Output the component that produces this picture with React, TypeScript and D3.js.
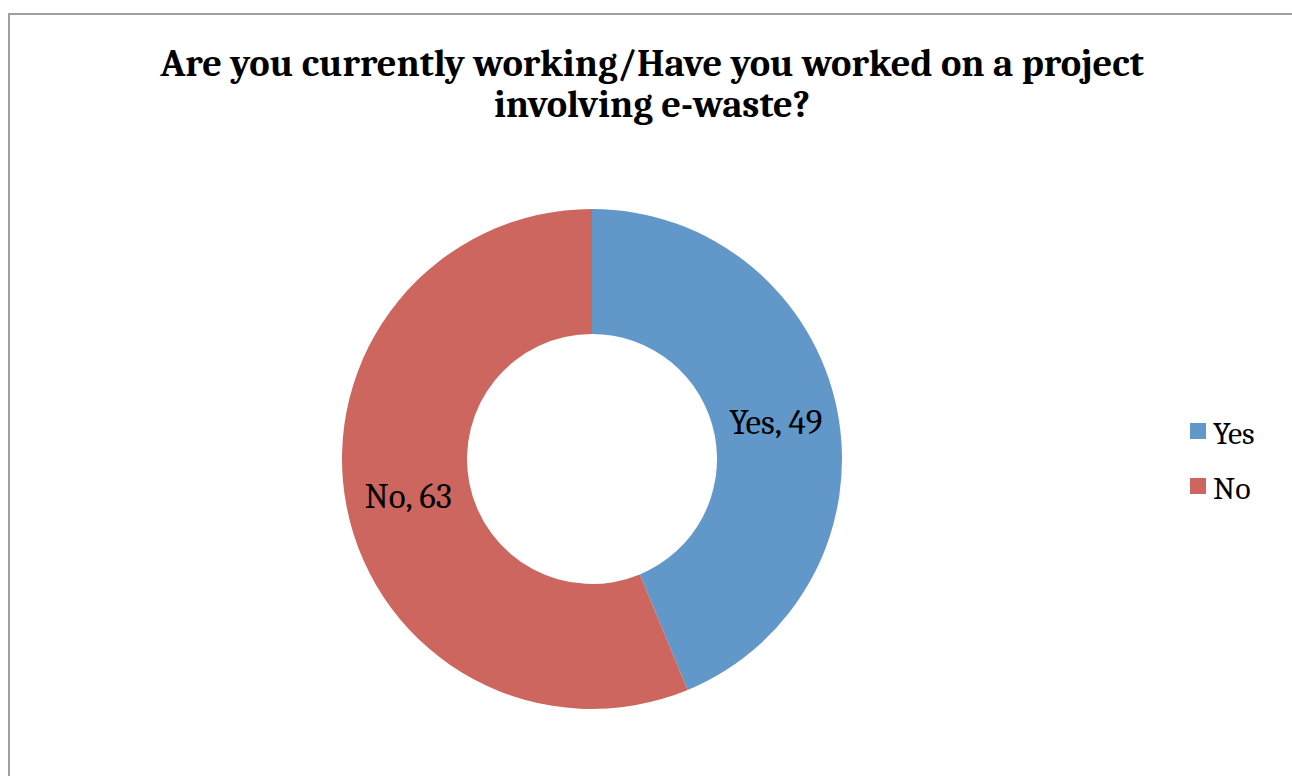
import React from "react";
import * as d3 from "d3";

const categories = ["Yes", "No"];
const values = [49, 63];
const colors = ["#6197c9", "#cc665f"];
const titleLines = ["Are you currently working/Have you worked on a project", "involving e-waste?"];

export default function App() {
  const W = 1292, H = 776;
  const cx = 592, cy = 459, rOuter = 250, rInner = 125;
  const pie = d3.pie<number>().sort(null).value((d) => d);
  const arcs = pie(values);
  const arc = d3.arc<d3.PieArcDatum<number>>().innerRadius(rInner).outerRadius(rOuter);
  const labelArc = d3.arc<d3.PieArcDatum<number>>().innerRadius((rInner + rOuter) / 2).outerRadius((rInner + rOuter) / 2);
  const font = "Cambria, 'DejaVu Serif', serif";
  return (
    <svg width={W} height={H} style={{ position: "absolute", left: 0, top: 0 }}>
      <rect x={0} y={0} width={W} height={H} fill="#fff" />
      <rect x={9} y={14} width={W + 10} height={H + 10} fill="none" stroke="#a0a0a0" strokeWidth={2} />
      <g fontFamily={font} fontWeight="bold" fontSize={38.5} textAnchor="middle" fill="#000">
        {titleLines.map((t, i) => (
          <text key={i} x={652} y={76 + i * 41}>{t}</text>
        ))}
      </g>
      <g transform={`translate(${cx},${cy})`}>
        {arcs.map((a, i) => (
          <path key={i} d={arc(a) || ""} fill={colors[i]} />
        ))}
        {arcs.map((a, i) => {
          const [x, y] = labelArc.centroid(a);
          return (
            <text key={"l" + i} x={x} y={y + 12} textAnchor="middle" fontFamily={font} fontSize={35} fill="#000">
              {`${categories[i]}, ${values[i]}`}
            </text>
          );
        })}
      </g>
      <g fontFamily={font} fontSize={32} fill="#000">
        {categories.map((c, i) => (
          <g key={c} transform={`translate(1190,${423 + i * 55})`}>
            <rect x={0} y={0} width={16} height={16} fill={colors[i]} />
            <text x={23} y={21}>{c}</text>
          </g>
        ))}
      </g>
    </svg>
  );
}
